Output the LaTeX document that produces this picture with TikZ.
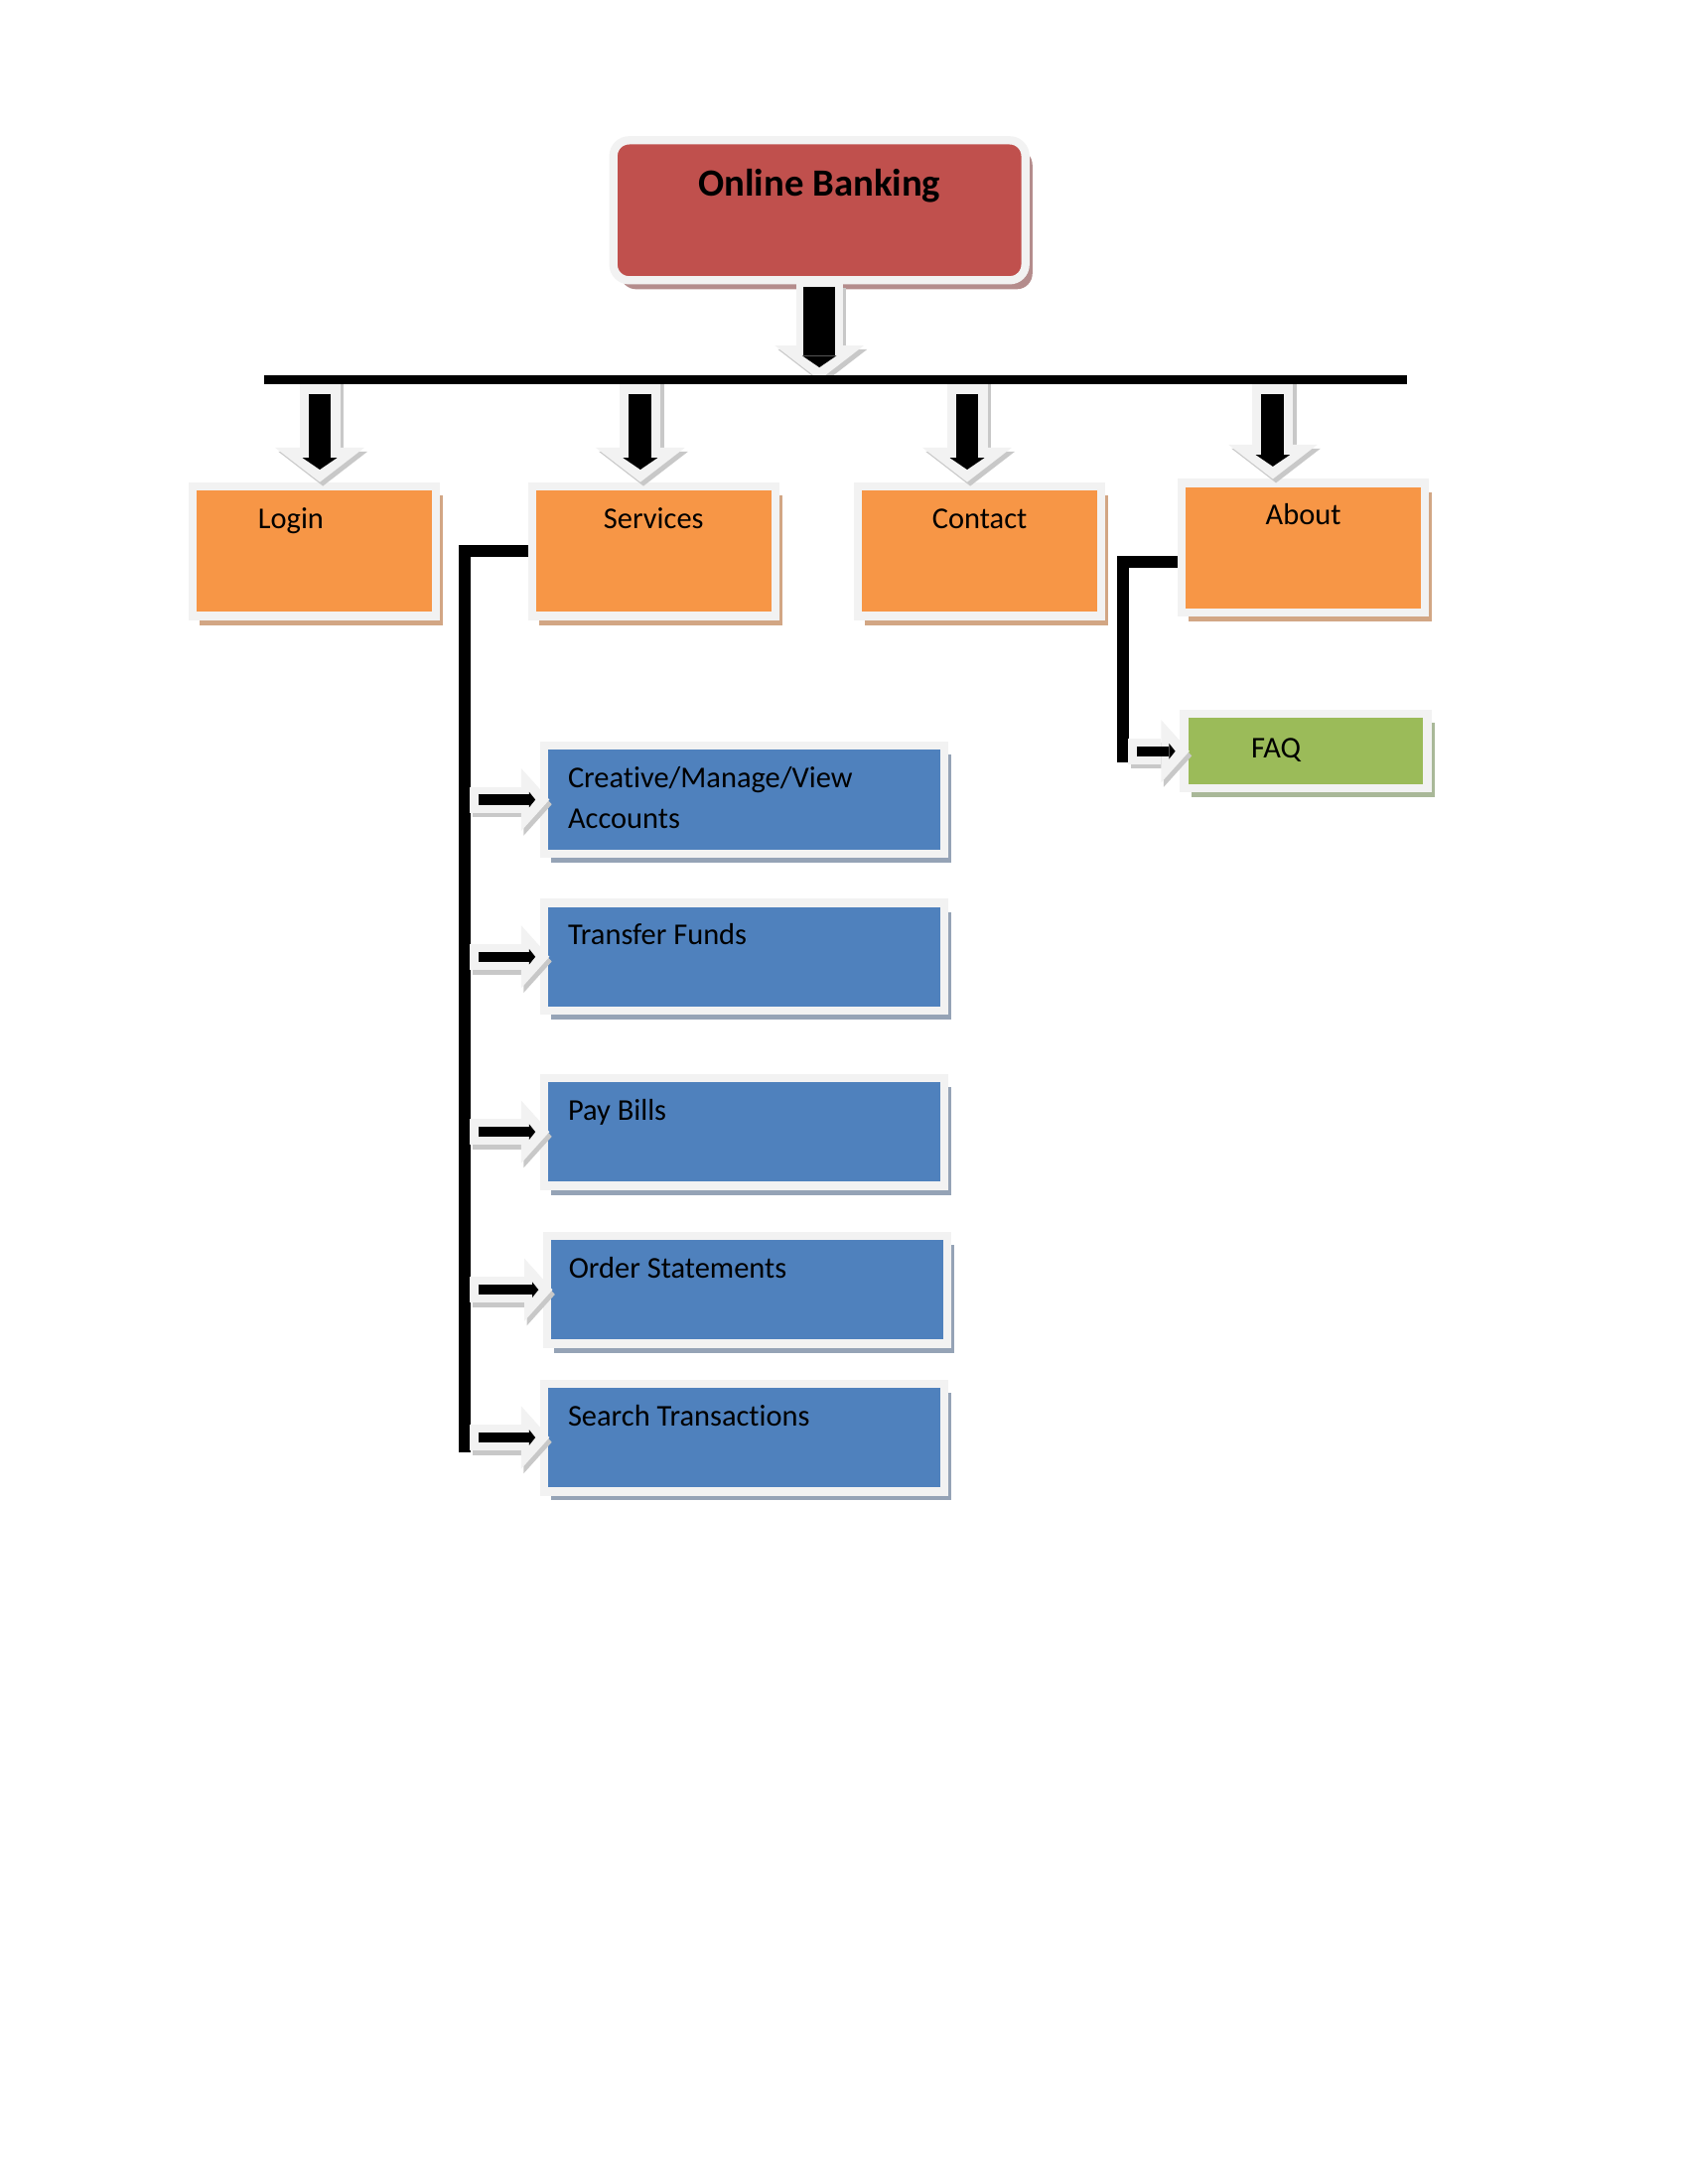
\documentclass[tikz,border=0pt]{standalone}
\usepackage{fontspec}
\setmainfont{Carlito}[Ligatures=CommonOff]
\usetikzlibrary{positioning, calc, arrows.meta, shadows}

\definecolor{bankred}{HTML}{C0504D}
\definecolor{redshade}{HTML}{B48C8C}
\definecolor{menuorange}{HTML}{F79646}
\definecolor{orangeshade}{HTML}{D2A684}
\definecolor{subblue}{HTML}{4F81BD}
\definecolor{blueshade}{HTML}{95A3B6}
\definecolor{faqgreen}{HTML}{9BBB59}
\definecolor{greenshade}{HTML}{A9B898}
\definecolor{boxrim}{HTML}{F2F2F2}
\definecolor{arrgrey}{HTML}{C8C8C8}

\tikzset{
  box/.style={draw=boxrim, line width=3pt, inner sep=0pt,
    drop shadow={shadow xshift=0.09cm, shadow yshift=-0.115cm, fill=#1, opacity=1}},
  menu/.style={box=orangeshade, fill=menuorange, minimum width=3.11cm, minimum height=1.66cm},
  sub/.style={box=blueshade, fill=subblue, minimum width=5.12cm, minimum height=1.38cm},
  lbl/.style={font=\fontsize{11}{14.8}\selectfont, inner sep=0pt, align=left},
  bus/.style={line width=0.114cm},
  conn/.style={line width=0.15cm},
  dnarrow/.style n args={3}{
    preaction={draw=arrgrey, line width=#1, shorten <=0pt, shorten >=0pt,
      -{Triangle[width=1.14cm, length=0.44cm, line width=0pt]},
      transform canvas={shift={(0.04,-0.05)}}},
    preaction={draw=boxrim, line width=#1, shorten <=0pt, shorten >=0pt,
      -{Triangle[width=1.14cm, length=0.44cm, line width=0pt]}},
    draw=black, line width=#2, shorten <=#3, shorten >=0.16cm,
    -{Triangle[width=0.44cm, length=0.15cm, line width=0pt]}},
  rarrow/.style={
    preaction={draw=arrgrey, line width=0.33cm, shorten <=0.07cm, shorten >=-0.12cm,
      -{Triangle[width=0.80cm, length=0.36cm, line width=0pt]},
      transform canvas={shift={(0.03,-0.06)}}},
    preaction={draw=boxrim, line width=0.33cm, shorten <=0.07cm, shorten >=-0.12cm,
      -{Triangle[width=0.80cm, length=0.36cm, line width=0pt]}},
    draw=black, line width=0.13cm, shorten <=0.18cm, shorten >=0.06cm,
    -{Triangle[width=0.20cm, length=0.08cm, line width=0pt]}}
}

\begin{document}
\begin{tikzpicture}
    \useasboundingbox (0,0) rectangle (21.59,-27.94);
    %riquadro principale
    \node[box=redshade, fill=bankred, rounded corners=0.2cm, minimum width=5.27cm, minimum height=1.79cm] (banking) at (10.48,-2.69) {};
    \node[font=\fontsize{14}{17}\selectfont\bfseries, inner sep=0pt, anchor=base] (bankingtxt) at ([yshift=-0.76cm]banking.north) {Online Banking};
    %riquadri del menu
    \node[menu] (login) at (4.02,-7.05) {};
    \node[menu] (services) at (8.36,-7.05) {};
    \node[menu] (contact) at (12.53,-7.05) {};
    \node[menu] (about) at (16.67,-7.01) {};
    \node[lbl, anchor=base] (logintxt) at ([xshift=-0.30cm, yshift=-0.59cm]login.north) {Login};
    \node[lbl, anchor=base] (servicestxt) at ([yshift=-0.59cm]services.north) {Services};
    \node[lbl, anchor=base] (contacttxt) at ([yshift=-0.59cm]contact.north) {Contact};
    \node[lbl, anchor=base] (abouttxt) at ([yshift=-0.59cm]about.north) {About};
    %sottovoci di services
    \node[sub] (acct) at (9.52,-10.23) {};
    \node[sub] (funds) at (9.52,-12.24) {};
    \node[sub] (bills) at (9.52,-14.48) {};
    \node[sub] (stmt) at (9.56,-16.50) {};
    \node[sub] (search) at (9.52,-18.39) {};
    \node[lbl, anchor=base west] (accttxt) at ([xshift=0.35cm, yshift=-1.11cm]acct.north west) {Creative/Manage/View\\Accounts};
    \node[lbl, anchor=base west] (fundstxt) at ([xshift=0.35cm, yshift=-0.59cm]funds.north west) {Transfer Funds};
    \node[lbl, anchor=base west] (billstxt) at ([xshift=0.35cm, yshift=-0.59cm]bills.north west) {Pay Bills};
    \node[lbl, anchor=base west] (stmttxt) at ([xshift=0.32cm, yshift=-0.59cm]stmt.north west) {Order Statements};
    \node[lbl, anchor=base west] (searchtxt) at ([xshift=0.35cm, yshift=-0.59cm]search.north west) {Search Transactions};
    %sottovoce di about
    \node[box=greenshade, fill=faqgreen, minimum width=3.11cm, minimum height=0.95cm] (faq) at (16.70,-9.61) {};
    \node[lbl, anchor=base] (faqtxt) at ([xshift=-0.38cm, yshift=-0.61cm]faq.north) {FAQ};
    %frecce verso il basso
    \coordinate (busL) at (3.38,-4.86);
    \coordinate (busR) at (18.00,-4.86);
    \draw[dnarrow={0.60cm}{0.41cm}{0.03cm}] (banking.south) -- (banking.south |- busL);
    \foreach \b/\x in {login/4.09, services/8.19, contact/12.37, about/16.28}{
        \coordinate (tap\b) at (\x,-4.86);
        \draw[dnarrow={0.52cm}{0.29cm}{0.18cm}] (tap\b) -- (tap\b |- \b.north);
    }
    %linea orizzontale
    \draw[bus] (busL) -- (busR);
    %collegamenti laterali
    \coordinate (svbar) at (5.94,-18.58);
    \coordinate (abbar) at (14.36,-9.75);
    \draw[conn] (services.west) -| (svbar);
    \draw[conn] ([yshift=-0.18cm]about.west) -| (abbar);
    \foreach \b in {acct, funds, bills, stmt, search}
        \draw[rarrow] (svbar |- \b.west) -- (\b.west);
    \draw[rarrow] (abbar |- faq.west) -- (faq.west);
\end{tikzpicture}
\end{document}
